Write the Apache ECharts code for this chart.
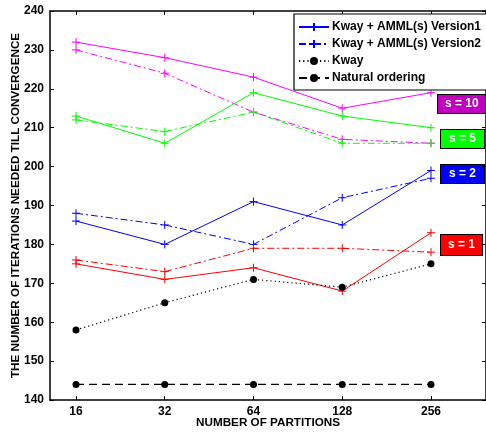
<!DOCTYPE html>
<html>
<head>
<meta charset="utf-8">
<script src="https://cdn.jsdelivr.net/npm/echarts@6/dist/echarts.min.js"></script>
<style>
html,body{margin:0;padding:0;background:#fff;}
#chart{width:486px;height:433px;}
</style>
</head>
<body>
<div id="chart"></div>
<script>
// ---- data ----
const partitions = ['16', '32', '64', '128', '256'];
const yTicks = [140, 150, 160, 170, 180, 190, 200, 210, 220, 230, 240];

const s10_v1 = [232, 228, 223, 215, 219];
const s10_v2 = [230, 224, 214, 207, 206];
const s5_v1  = [213, 206, 219, 213, 210];
const s5_v2  = [212, 209, 214, 206, 206];
const s2_v1  = [186, 180, 191, 185, 199];
const s2_v2  = [188, 185, 180, 192, 197];
const s1_v1  = [175, 171, 174, 168, 183];
const s1_v2  = [176, 173, 179, 179, 178];
const kway    = [158, 165, 171, 169, 175];
const natural = [144, 144, 144, 144, 144];

const NAME_V1 = 'Kway + AMML(s) Version1';
const NAME_V2 = 'Kway + AMML(s) Version2';
const NAME_KWAY = 'Kway';
const NAME_NAT = 'Natural ordering';

const BLUE = '#0000ff', RED = '#ff0000', GREEN = '#00ff00', MAGENTA = '#ff00ff';
const PLUS = 'path://M0,5L10,5M5,0L5,10';
const DASHDOT = [7, 3, 2, 3];

function toPairs(arr) { return arr.map((v, i) => [i, v]); }

function plusSeries(name, data, color, dashed) {
  return {
    name: name,
    type: 'line',
    data: toPairs(data),
    symbol: PLUS,
    symbolSize: 8,
    showSymbol: true,
    lineStyle: { color: color, width: 1, type: dashed ? DASHDOT : 'solid' },
    itemStyle: { color: color, borderColor: color, borderWidth: 1 },
    emphasis: { disabled: true },
    animation: false
  };
}

const series = [
  plusSeries(NAME_V1, s2_v1, BLUE, false),
  plusSeries(NAME_V2, s2_v2, BLUE, true),
  plusSeries(NAME_V1, s10_v1, MAGENTA, false),
  plusSeries(NAME_V2, s10_v2, MAGENTA, true),
  plusSeries(NAME_V1, s5_v1, GREEN, false),
  plusSeries(NAME_V2, s5_v2, GREEN, true),
  plusSeries(NAME_V1, s1_v1, RED, false),
  plusSeries(NAME_V2, s1_v2, RED, true),
  {
    name: NAME_KWAY, type: 'line', data: toPairs(kway),
    symbol: 'circle', symbolSize: 7,
    lineStyle: { color: '#000', width: 1.2, type: [1.2, 3] },
    itemStyle: { color: '#000' },
    emphasis: { disabled: true }, animation: false
  },
  {
    name: NAME_NAT, type: 'line', data: toPairs(natural),
    symbol: 'circle', symbolSize: 7,
    lineStyle: { color: '#000', width: 1.2, type: [8, 5] },
    itemStyle: { color: '#000' },
    emphasis: { disabled: true }, animation: false
  }
];

const xIdx = partitions.map((p, i) => i);
const FONT = 'Liberation Sans';

const chart = echarts.init(document.getElementById('chart'), null, { renderer: 'canvas' });
chart.setOption({
  backgroundColor: '#fff',
  animation: false,
  grid: { left: 50, right: 0, top: 11, bottom: 33, containLabel: false, outerBoundsMode: 'none' },
  xAxis: [{
    type: 'value', min: -0.293, max: 4.62,
    name: 'NUMBER OF PARTITIONS', nameLocation: 'middle', nameGap: 17, nameMoveOverlap: false,
    nameTextStyle: { fontFamily: FONT, fontWeight: 'bold', fontSize: 11.7, color: '#000', verticalAlign: 'top', lineHeight: 12 },
    axisLine: { show: true, onZero: false, lineStyle: { color: '#000', width: 1.5 } },
    axisTick: { show: true, inside: true, length: 4, customValues: xIdx, lineStyle: { color: '#000' } },
    axisLabel: { customValues: xIdx, formatter: v => partitions[Math.round(v)], fontFamily: FONT, fontWeight: 'bold', fontSize: 12, color: '#000', margin: 6 },
    splitLine: { show: false }
  }, {
    type: 'value', position: 'top', min: -0.293, max: 4.62,
    axisLine: { show: true, onZero: false, lineStyle: { color: '#000', width: 1.5 } },
    axisTick: { show: true, inside: true, length: 4, customValues: xIdx, lineStyle: { color: '#000' } },
    axisLabel: { show: false },
    splitLine: { show: false }
  }],
  yAxis: [{
    type: 'value', min: 140, max: 240, interval: 10,
    name: 'THE NUMBER OF ITERATIONS NEEDED TILL CONVERGENCE', nameLocation: 'middle', nameGap: 28, nameMoveOverlap: false,
    nameTextStyle: { fontFamily: FONT, fontWeight: 'bold', fontSize: 11.7, color: '#000' },
    axisLine: { show: true, onZero: false, lineStyle: { color: '#000', width: 1.5 } },
    axisTick: { show: true, inside: true, length: 4, lineStyle: { color: '#000' } },
    axisLabel: { fontFamily: FONT, fontWeight: 'bold', fontSize: 12, color: '#000', margin: 6 },
    splitLine: { show: false }
  }, {
    type: 'value', position: 'right', min: 140, max: 240, interval: 10,
    axisLine: { show: true, onZero: false, lineStyle: { color: '#000', width: 1.5 } },
    axisTick: { show: true, inside: true, length: 4, lineStyle: { color: '#000' } },
    axisLabel: { show: false },
    splitLine: { show: false }
  }],
  legend: {
    data: [NAME_V1, NAME_V2, NAME_KWAY, NAME_NAT],
    orient: 'vertical',
    left: 294, top: 14,
    padding: [7, 6, 6, 4],
    itemGap: 5,
    itemWidth: 30, itemHeight: 10,
    backgroundColor: '#fff',
    borderColor: '#000', borderWidth: 1.2,
    borderRadius: 0,
    selectedMode: false,
    textStyle: { fontFamily: FONT, fontWeight: 'bold', fontSize: 12, color: '#000', padding: [0, 0, 0, -2] }
  },
  graphic: [
    { type: 'text', left: 437, top: 94, style: { text: 's = 10', fill: '#fff', font: 'bold 12px "Liberation Sans"', backgroundColor: '#bf00bf', borderColor: '#000', borderWidth: 1, padding: [3, 7, 3, 7] } },
    { type: 'text', left: 440, top: 129, style: { text: 's = 5', fill: '#fff', font: 'bold 12px "Liberation Sans"', backgroundColor: '#00ff00', borderColor: '#000', borderWidth: 1, padding: [3, 8, 3, 8] } },
    { type: 'text', left: 440, top: 164, style: { text: 's = 2', fill: '#fff', font: 'bold 12px "Liberation Sans"', backgroundColor: '#0000ff', borderColor: '#000', borderWidth: 1, padding: [3, 8, 3, 8] } },
    { type: 'text', left: 440, top: 234, style: { text: 's = 1', fill: '#fff', font: 'bold 12px "Liberation Sans"', backgroundColor: '#ff0000', borderColor: '#000', borderWidth: 1, padding: [4, 7, 4, 7] } }
  ],
  series: series
});
</script>
</body>
</html>
